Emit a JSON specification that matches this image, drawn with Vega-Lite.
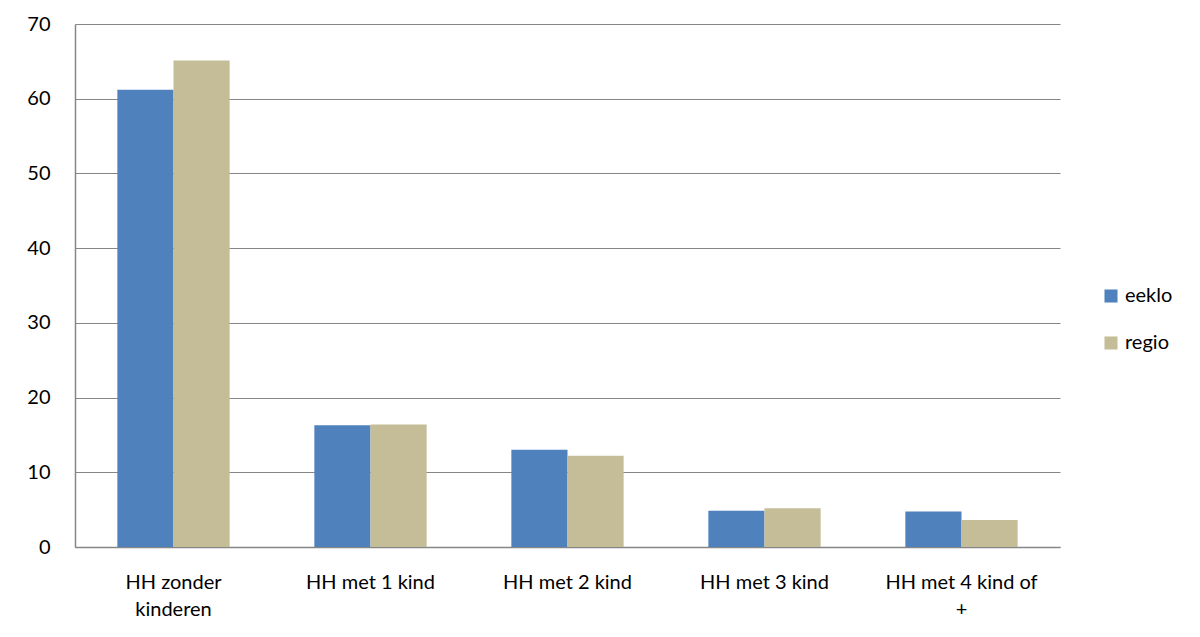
{
  "$schema": "https://vega.github.io/schema/vega-lite/v6.json",
  "width": 985,
  "height": 523,
  "autosize": {"type": "none"},
  "padding": {"left": 75, "top": 24, "right": 140, "bottom": 90},
  "background": "white",
  "config": {
    "view": {"stroke": null},
    "font": "Lato",
    "axis": {"labelFont": "Lato", "labelFontSize": 20, "labelColor": "#000000"},
    "legend": {"labelFont": "Lato", "labelFontSize": 20, "labelColor": "#000000"}
  },
  "data": {
    "values": [
      {"categorie": "HH zonder kinderen", "reeks": "eeklo", "waarde": 61.2},
      {"categorie": "HH zonder kinderen", "reeks": "regio", "waarde": 65.1},
      {"categorie": "HH met 1 kind", "reeks": "eeklo", "waarde": 16.3},
      {"categorie": "HH met 1 kind", "reeks": "regio", "waarde": 16.4},
      {"categorie": "HH met 2 kind", "reeks": "eeklo", "waarde": 13.0},
      {"categorie": "HH met 2 kind", "reeks": "regio", "waarde": 12.2},
      {"categorie": "HH met 3 kind", "reeks": "eeklo", "waarde": 4.85},
      {"categorie": "HH met 3 kind", "reeks": "regio", "waarde": 5.2},
      {"categorie": "HH met 4 kind of +", "reeks": "eeklo", "waarde": 4.75},
      {"categorie": "HH met 4 kind of +", "reeks": "regio", "waarde": 3.6}
    ]
  },
  "mark": {"type": "bar"},
  "encoding": {
    "x": {
      "field": "categorie",
      "type": "nominal",
      "sort": ["HH zonder kinderen", "HH met 1 kind", "HH met 2 kind", "HH met 3 kind", "HH met 4 kind of +"],
      "scale": {"paddingInner": 0.43, "paddingOuter": 0.215},
      "axis": {
        "title": null,
        "labelAngle": 0,
        "ticks": false,
        "domainColor": "#868686",
        "domainWidth": 1.5,
        "labelPadding": 25,
        "labelLineHeight": 27,
        "labelExpr": "datum.label == 'HH zonder kinderen' ? ['HH zonder', 'kinderen'] : datum.label == 'HH met 4 kind of +' ? ['HH met 4 kind of', '+'] : datum.label"
      }
    },
    "xOffset": {"field": "reeks", "type": "nominal"},
    "y": {
      "field": "waarde",
      "type": "quantitative",
      "scale": {"domain": [0, 70], "nice": false},
      "axis": {
        "title": null,
        "values": [0, 10, 20, 30, 40, 50, 60, 70],
        "ticks": false,
        "labelPadding": 25,
        "gridColor": "#868686",
        "gridWidth": 1,
        "domainColor": "#868686",
        "domainWidth": 1.5
      }
    },
    "color": {
      "field": "reeks",
      "type": "nominal",
      "scale": {"domain": ["eeklo", "regio"], "range": ["#4F81BD", "#C4BD97"]},
      "legend": {
        "title": null,
        "orient": "none",
        "legendX": 1026,
        "legendY": 262,
        "symbolType": "square",
        "symbolSize": 170,
        "symbolStrokeWidth": 0,
        "rowPadding": 27,
        "labelOffset": 4
      }
    }
  }
}
